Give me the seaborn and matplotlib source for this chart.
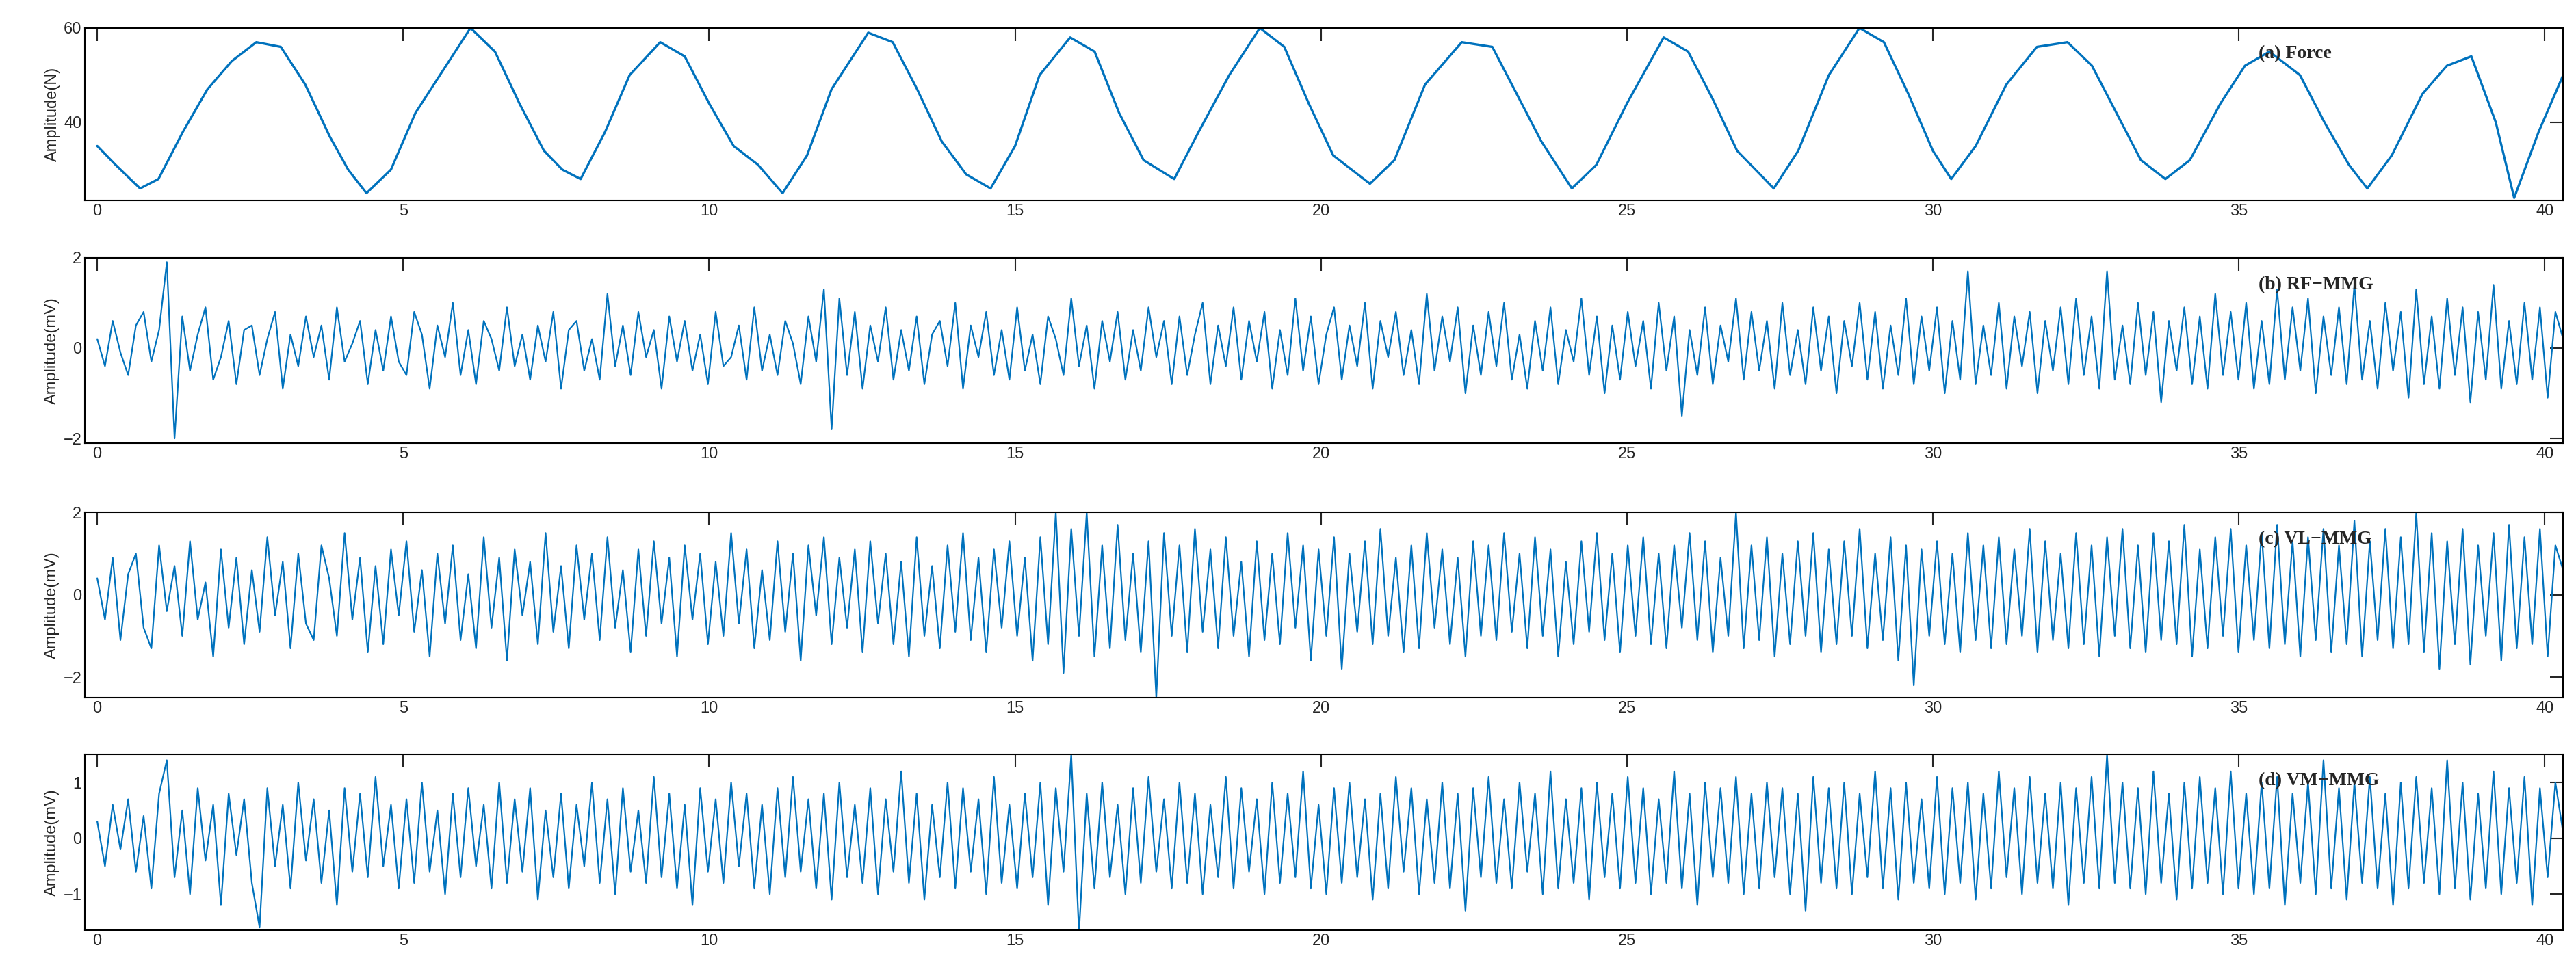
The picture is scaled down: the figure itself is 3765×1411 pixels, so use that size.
import numpy as np
import pandas as pd
import matplotlib
matplotlib.use("Agg")
import matplotlib.pyplot as plt
import seaborn as sns

sns.set_style("white")
plt.rcParams['font.family'] = ['Liberation Sans', 'DejaVu Sans']

force_pairs = [(0,35),(0.3,31),(0.7,26),(1.0,28),(1.4,38),(1.8,47),(2.2,53),(2.6,57),(3.0,56),(3.4,48),
 (3.8,37),(4.1,30),(4.4,25),(4.8,30),(5.2,42),(5.7,52),(6.1,60),(6.5,55),(6.9,44),(7.3,34),(7.6,30),(7.9,28),
 (8.3,38),(8.7,50),(9.2,57),(9.6,54),(10.0,44),(10.4,35),(10.8,31),(11.2,25),(11.6,33),(12.0,47),(12.6,59),
 (13.0,57),(13.4,47),(13.8,36),(14.2,29),(14.6,26),(15.0,35),(15.4,50),(15.9,58),(16.3,55),(16.7,42),(17.1,32),
 (17.6,28),(18.0,38),(18.5,50),(19.0,60),(19.4,56),(19.8,44),(20.2,33),(20.8,27),(21.2,32),(21.7,48),(22.3,57),
 (22.8,56),(23.2,46),(23.6,36),(24.1,26),(24.5,31),(25.0,44),(25.6,58),(26.0,55),(26.4,45),(26.8,34),(27.4,26),
 (27.8,34),(28.3,50),(28.8,60),(29.2,57),(29.6,46),(30.0,34),(30.3,28),(30.7,35),(31.2,48),(31.7,56),(32.2,57),
 (32.6,52),(33.0,42),(33.4,32),(33.8,28),(34.2,32),(34.7,44),(35.1,52),(35.5,55),(36.0,50),(36.4,40),(36.8,31),
 (37.1,26),(37.5,33),(38.0,46),(38.4,52),(38.8,54),(39.2,40),(39.5,24),(39.9,38),(40.3,50)]
force_t = [p[0] for p in force_pairs]
force_v = [p[1] for p in force_pairs]

rf_mmg = [0.2,-0.4,0.6,-0.1,-0.6,0.5,0.8,-0.3,0.4,1.9,-2.0,0.7,-0.5,0.3,0.9,-0.7,-0.2,0.6,-0.8,0.4,
0.5,-0.6,0.2,0.8,-0.9,0.3,-0.4,0.7,-0.2,0.5,-0.7,0.9,-0.3,0.1,0.6,-0.8,0.4,-0.5,0.7,-0.3,
-0.6,0.8,0.3,-0.9,0.5,-0.2,1.0,-0.6,0.4,-0.8,0.6,0.2,-0.5,0.9,-0.4,0.3,-0.7,0.5,-0.3,0.8,
-0.9,0.4,0.6,-0.5,0.2,-0.7,1.2,-0.4,0.5,-0.6,0.8,-0.2,0.4,-0.9,0.7,-0.3,0.6,-0.5,0.3,-0.8,
0.8,-0.4,-0.2,0.5,-0.7,0.9,-0.5,0.3,-0.6,0.6,0.1,-0.8,0.7,-0.3,1.3,-1.8,1.1,-0.6,0.8,-0.9,
0.5,-0.3,0.9,-0.7,0.4,-0.5,0.7,-0.8,0.3,0.6,-0.4,1.0,-0.9,0.5,-0.2,0.8,-0.6,0.4,-0.7,0.9,
-0.5,0.3,-0.8,0.7,0.2,-0.6,1.1,-0.4,0.5,-0.9,0.6,-0.3,0.8,-0.7,0.4,-0.5,0.9,-0.2,0.6,-0.8,
0.7,-0.6,0.3,1.0,-0.8,0.5,-0.4,0.9,-0.7,0.6,-0.3,0.8,-0.9,0.4,-0.6,1.1,-0.5,0.7,-0.8,0.3,
0.9,-0.7,0.5,-0.4,1.0,-0.9,0.6,-0.2,0.8,-0.6,0.4,-0.8,1.2,-0.5,0.7,-0.3,0.9,-1.0,0.5,-0.6,
0.8,-0.4,1.0,-0.7,0.3,-0.9,0.6,-0.5,0.9,-0.8,0.4,-0.3,1.1,-0.6,0.7,-1.0,0.5,-0.7,0.8,-0.4,
0.6,-0.9,1.0,-0.5,0.7,-1.5,0.4,-0.6,0.9,-0.8,0.5,-0.3,1.1,-0.7,0.8,-0.5,0.6,-0.9,1.0,-0.6,
0.4,-0.8,0.9,-0.5,0.7,-1.0,0.6,-0.4,1.0,-0.7,0.8,-0.9,0.5,-0.6,1.1,-0.8,0.7,-0.5,0.9,-1.0,
0.6,-0.7,1.7,-0.8,0.5,-0.6,1.0,-0.9,0.7,-0.4,0.8,-1.0,0.6,-0.5,0.9,-0.8,1.1,-0.6,0.7,-0.9,
1.7,-0.7,0.5,-0.8,1.0,-0.6,0.8,-1.2,0.6,-0.5,0.9,-0.8,0.7,-0.9,1.2,-0.6,0.8,-0.7,1.0,-0.9,
0.6,-0.8,1.3,-0.7,0.9,-0.5,1.1,-1.0,0.7,-0.6,0.9,-0.8,1.4,-0.7,0.6,-0.9,1.0,-0.5,0.8,-1.1,
1.3,-0.8,0.7,-0.9,1.1,-0.6,0.9,-1.2,0.8,-0.7,1.4,-0.9,0.6,-0.8,1.0,-0.7,0.9,-1.1,0.8,0.2]

vl_mmg = [0.4,-0.6,0.9,-1.1,0.5,1.0,-0.8,-1.3,1.2,-0.4,0.7,-1.0,1.3,-0.6,0.3,-1.5,1.1,-0.8,0.9,-1.2,
0.6,-0.9,1.4,-0.5,0.8,-1.3,1.0,-0.7,-1.1,1.2,0.4,-1.0,1.5,-0.6,0.9,-1.4,0.7,-1.2,1.1,-0.5,
1.3,-0.9,0.6,-1.5,1.0,-0.7,1.2,-1.1,0.5,-1.3,1.4,-0.8,0.9,-1.6,1.1,-0.5,0.8,-1.2,1.5,-0.9,
0.7,-1.3,1.2,-0.6,1.0,-1.1,1.4,-0.8,0.6,-1.4,1.1,-1.0,1.3,-0.7,0.9,-1.5,1.2,-0.6,1.0,-1.2,
0.8,-1.0,1.5,-0.7,1.1,-1.3,0.6,-1.1,1.3,-0.9,1.0,-1.6,1.2,-0.5,1.4,-1.2,0.9,-0.8,1.1,-1.4,
1.3,-0.7,1.0,-1.2,0.8,-1.5,1.4,-1.0,0.7,-1.3,1.2,-0.9,1.5,-1.1,0.9,-1.4,1.1,-0.8,1.3,-1.0,
0.9,-1.6,1.4,-1.2,2.0,-1.9,1.6,-1.0,2.0,-1.5,1.2,-1.3,1.7,-1.1,1.0,-1.4,1.3,-2.5,1.5,-1.0,
1.2,-1.4,1.6,-0.9,1.1,-1.3,1.4,-1.0,0.8,-1.5,1.3,-1.1,1.0,-1.2,1.5,-0.8,1.2,-1.6,1.1,-1.0,
1.4,-1.8,1.0,-0.9,1.3,-1.2,1.6,-1.0,0.9,-1.4,1.2,-1.3,1.5,-0.8,1.1,-1.2,0.9,-1.5,1.3,-1.0,
1.2,-1.1,1.5,-0.9,1.0,-1.3,1.4,-1.0,1.1,-1.5,0.8,-1.2,1.3,-0.9,1.5,-1.1,1.0,-1.4,1.2,-1.0,
1.4,-1.2,1.0,-1.3,1.2,-0.8,1.5,-1.1,1.3,-1.4,0.9,-1.0,2.0,-1.3,1.2,-1.1,1.4,-1.5,1.0,-1.2,
1.3,-1.0,1.5,-1.4,1.1,-1.2,1.3,-1.0,1.6,-1.3,1.0,-1.1,1.4,-1.6,1.2,-2.2,1.1,-1.0,1.3,-1.2,
1.0,-1.4,1.5,-1.1,1.2,-1.3,1.4,-1.2,1.1,-1.0,1.6,-1.4,1.3,-1.1,1.0,-1.3,1.5,-1.2,1.2,-1.5,
1.4,-1.0,1.6,-1.3,1.2,-1.4,1.5,-1.1,1.3,-1.2,1.7,-1.5,1.1,-1.3,1.4,-1.0,1.6,-1.4,1.2,-1.1,
1.5,-1.3,1.7,-1.2,1.3,-1.5,1.4,-1.1,1.6,-1.4,1.2,-1.2,1.8,-1.5,1.3,-1.1,1.6,-1.3,1.4,-1.2,
2.0,-1.4,1.5,-1.8,1.3,-1.2,1.6,-1.7,1.2,-1.0,1.5,-1.6,1.7,-1.3,1.4,-1.2,1.6,-1.5,1.2,0.6]

vm_mmg = [0.3,-0.5,0.6,-0.2,0.7,-0.6,0.4,-0.9,0.8,1.4,-0.7,0.5,-1.0,0.9,-0.4,0.6,-1.2,0.8,-0.3,0.7,
-0.8,-1.6,0.9,-0.5,0.6,-0.9,1.0,-0.4,0.7,-0.8,0.5,-1.2,0.9,-0.6,0.8,-0.7,1.1,-0.5,0.6,-0.9,
0.7,-0.8,1.0,-0.6,0.5,-1.0,0.8,-0.7,0.9,-0.5,0.6,-0.9,1.0,-0.8,0.7,-0.6,0.9,-1.1,0.5,-0.7,
0.8,-0.9,0.6,-0.5,1.0,-0.8,0.7,-1.0,0.9,-0.6,0.5,-0.8,1.1,-0.7,0.8,-0.9,0.6,-1.2,0.9,-0.6,
0.7,-0.8,1.0,-0.5,0.8,-0.9,0.6,-1.0,0.9,-0.7,1.1,-0.6,0.7,-0.9,0.8,-1.1,1.0,-0.7,0.6,-0.8,
0.9,-1.0,0.7,-0.6,1.2,-0.8,0.8,-1.1,0.6,-0.7,1.0,-0.9,0.9,-0.6,0.7,-1.0,1.1,-0.8,0.6,-0.9,
0.8,-0.7,1.0,-1.2,0.9,-0.6,1.5,-1.7,0.8,-0.9,1.0,-0.7,0.6,-1.0,0.9,-0.8,1.1,-0.6,0.7,-0.9,
1.0,-0.8,0.8,-1.0,0.6,-0.7,1.1,-0.9,0.9,-0.6,0.7,-1.0,1.0,-0.8,0.8,-0.7,1.2,-0.9,0.6,-1.0,
0.9,-0.8,1.0,-0.7,0.7,-1.1,0.8,-0.9,1.1,-0.6,0.9,-1.0,0.7,-0.8,1.0,-0.9,0.8,-1.3,0.9,-0.7,
1.1,-0.8,0.7,-0.9,1.0,-0.6,0.8,-1.0,1.2,-0.9,0.7,-0.8,0.9,-1.1,1.0,-0.7,0.8,-0.9,1.1,-0.8,
0.9,-1.0,0.7,-0.8,1.2,-0.9,0.8,-1.2,1.0,-0.7,0.9,-0.8,1.1,-1.0,0.8,-0.9,1.0,-0.7,0.9,-1.0,
0.8,-1.3,1.1,-0.8,0.9,-0.9,1.0,-1.0,0.8,-0.7,1.2,-0.9,0.9,-1.1,1.0,-0.8,0.7,-0.9,1.1,-1.0,
0.9,-0.8,1.0,-1.1,0.8,-0.9,1.2,-0.7,0.9,-1.0,1.1,-0.8,0.8,-0.9,1.0,-1.2,0.9,-0.8,1.1,-0.9,
1.5,-0.8,1.0,-0.9,0.9,-1.0,1.2,-0.8,0.8,-1.1,1.0,-0.9,1.1,-0.8,0.9,-1.0,1.2,-0.9,0.8,-1.0,
1.0,-0.9,1.1,-1.2,0.8,-0.8,1.0,-1.0,1.4,-0.9,0.9,-1.1,1.0,-0.8,1.1,-0.9,0.8,-1.2,1.0,-0.9,
1.1,-0.8,0.9,-1.0,1.4,-0.9,1.0,-1.1,0.8,-0.9,1.2,-1.0,0.9,-0.8,1.1,-1.2,0.9,-0.7,1.0,0.1]

titles = ["(a) Force", "(b) RF\u2212MMG", "(c) VL\u2212MMG", "(d) VM\u2212MMG"]
ylabels = ["Amplitude(N)", "Amplitude(mV)", "Amplitude(mV)", "Amplitude(mV)"]
ylims = [(23.5, 60), (-2.1, 2.0), (-2.5, 2.0), (-1.65, 1.5)]
yticks = [[40, 60], [-2, 0, 2], [-2, 0, 2], [-1, 0, 1]]
xticks = [0, 5, 10, 15, 20, 25, 30, 35, 40]
T_END = 40.3

def mk_t(vals):
    return np.linspace(0, T_END, len(vals))

series = [(force_t, force_v), (mk_t(rf_mmg), rf_mmg), (mk_t(vl_mmg), vl_mmg), (mk_t(vm_mmg), vm_mmg)]
widths = [2.4, 1.6, 1.6, 1.6]

fig = plt.figure(figsize=(37.65, 14.11), dpi=100)
boxes = [(0.7925, 0.971), (0.541, 0.733), (0.277, 0.469), (0.036, 0.218)]
color = "#0072BD"
for i, ((b, t), (x, y)) in enumerate(zip(boxes, series)):
    ax = fig.add_axes([0.033, b, 0.962, t - b])
    df = pd.DataFrame({"t": x, "v": y})
    sns.lineplot(data=df, x="t", y="v", ax=ax, color=color, linewidth=widths[i], estimator=None, sort=False)
    ax.set_xlim(-0.2, T_END)
    ax.set_ylim(*ylims[i])
    ax.set_xticks(xticks)
    ax.set_yticks(yticks[i])
    ax.set_xlabel("")
    ax.set_ylabel(ylabels[i], fontsize=17)
    ax.tick_params(direction="in", length=14, width=1.5, labelsize=17, top=True, right=True)
    for s in ax.spines.values():
        s.set_linewidth(1.5)
        s.set_color("black")
    ax.text(0.877, 0.9, titles[i], transform=ax.transAxes, fontsize=20, fontweight="bold",
            family=["Liberation Serif", "DejaVu Serif"], va="top", ha="left")

fig.savefig("out.png", dpi=100)
